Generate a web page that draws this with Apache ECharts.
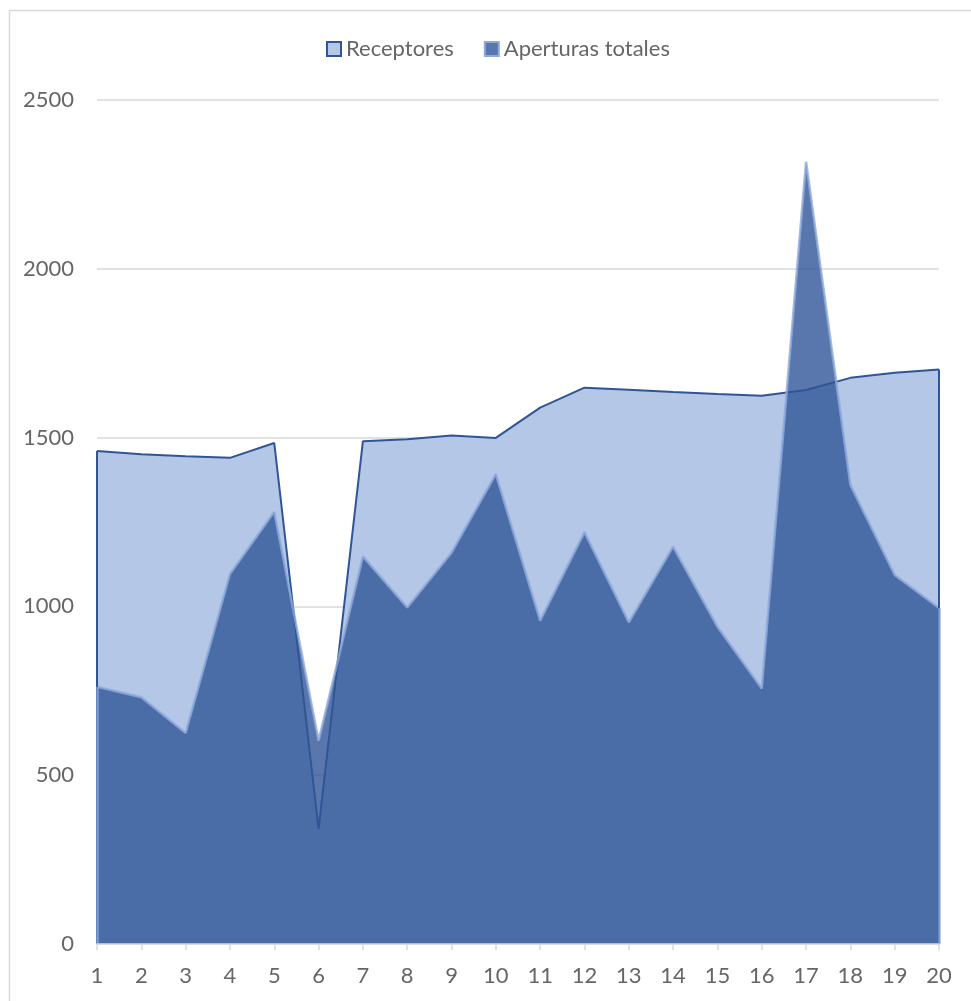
<!DOCTYPE html>
<html>
<head>
<meta charset="utf-8">
<script src="https://cdn.jsdelivr.net/npm/echarts@6/dist/echarts.min.js"></script>
<style>
html,body{margin:0;padding:0;background:#fff;}
#chart{width:971px;height:1001px;}
</style>
</head>
<body>
<div id="chart"></div>
<script>
const categories = ['1','2','3','4','5','6','7','8','9','10','11','12','13','14','15','16','17','18','19','20'];
const receptores = [1460,1451,1445,1440,1484,340,1489,1495,1506,1499,1589,1648,1642,1635,1629,1624,1641,1677,1692,1702];
const aperturas = [762,731,625,1096,1280,602,1148,997,1159,1392,958,1220,953,1177,940,757,2317,1360,1093,995];
const yTicks = [0,500,1000,1500,2000,2500];

const FONT = 'Lato, "Open Sans", sans-serif';
const recLine = '#2F5597', recFill = '#B4C7E7';
const apFill = 'rgba(47,85,151,0.8)', apLine = 'rgba(143,170,220,0.8)';

function edges(vals){
  const last = categories.length - 1;
  return [
    [{coord:[categories[0],0]},{coord:[categories[0],vals[0]]}],
    [{coord:[categories[last],0]},{coord:[categories[last],vals[last]]}]
  ];
}

const chart = echarts.init(document.getElementById('chart'), null, {renderer:'canvas'});
chart.setOption({
  animation:false,
  backgroundColor:'#fff',
  graphic:[{type:'rect', shape:{x:9.5,y:10.5,width:1000,height:1050}, style:{fill:'none', stroke:'#d9d9d9', lineWidth:1.5}, silent:true, z:-1}],
  legend:{
    left:321, top:33, itemWidth:14, itemHeight:14, itemGap:30,
    textStyle:{fontFamily:FONT, fontSize:22, color:'#666666'},
    data:[
      {name:'Receptores', icon:'rect', itemStyle:{color:recFill, borderColor:recLine, borderWidth:2}},
      {name:'Aperturas totales', icon:'rect', itemStyle:{color:'#5977AC', borderColor:'#8FAADC', borderWidth:2}}
    ]
  },
  grid:{left:97, right:32, top:100, bottom:57, containLabel:false},
  xAxis:{
    type:'category', data:categories, boundaryGap:false, z:5,
    axisLine:{lineStyle:{color:'#d9d9d9', width:1.5}},
    axisTick:{show:true, alignWithLabel:true, length:6, lineStyle:{color:'#d9d9d9', width:1.5}},
    axisLabel:{fontFamily:FONT, fontSize:22, color:'#666666', margin:21}
  },
  yAxis:{
    type:'value', min:yTicks[0], max:yTicks[yTicks.length-1], interval:500,
    axisLine:{show:false}, axisTick:{show:false},
    splitLine:{lineStyle:{color:'#d9d9d9', width:1.5}},
    axisLabel:{fontFamily:FONT, fontSize:22, color:'#666666', margin:23, formatter:function(v){return String(v);}}
  },
  series:[
    {
      name:'Receptores', type:'line', data:receptores, symbol:'none', z:2,
      lineStyle:{color:recLine, width:2},
      itemStyle:{color:recFill},
      areaStyle:{color:recFill, opacity:1},
      markLine:{silent:true, symbol:['none','none'], label:{show:false},
        lineStyle:{color:recLine, width:2, type:'solid'}, data:edges(receptores)}
    },
    {
      name:'Aperturas totales', type:'line', data:aperturas, symbol:'none', z:3,
      lineStyle:{color:apLine, width:2.5},
      itemStyle:{color:'#5977AC'},
      areaStyle:{color:apFill, opacity:1},
      markLine:{silent:true, symbol:['none','none'], label:{show:false},
        lineStyle:{color:apLine, width:2.5, type:'solid'}, data:edges(aperturas)}
    }
  ]
});
</script>
</body>
</html>
